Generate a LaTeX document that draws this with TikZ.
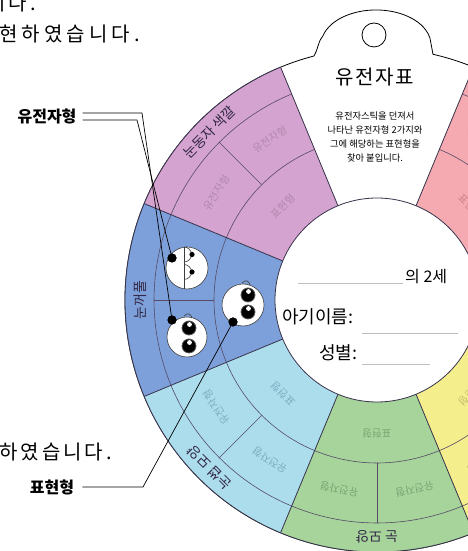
\documentclass[tikz,border=0pt]{standalone}
\usepackage{fontspec}
\setmainfont{Noto Sans CJK KR}
\usetikzlibrary{calc}

\definecolor{pinkS}{RGB}{213,163,207}
\definecolor{blueS}{RGB}{126,160,218}
\definecolor{cyanS}{RGB}{172,221,236}
\definecolor{greenS}{RGB}{166,212,155}
\definecolor{yellowS}{RGB}{245,238,140}
\definecolor{salmonS}{RGB}{244,170,176}
\definecolor{pinkT}{RGB}{176,135,175}
\definecolor{cyanT}{RGB}{125,172,192}
\definecolor{greenT}{RGB}{122,165,115}
\definecolor{yellowT}{RGB}{200,190,110}
\definecolor{salmonT}{RGB}{205,130,140}
\definecolor{edgeC}{RGB}{55,50,75}
\definecolor{ringC}{RGB}{85,75,105}
\definecolor{labelC}{RGB}{50,40,70}
\definecolor{faceC}{RGB}{60,60,60}
\definecolor{blankC}{RGB}{190,190,190}

\begin{document}
\begin{tikzpicture}[x=1pt,y=1pt,
  edge/.style={draw=edgeC, line width=0.8pt},
  ring/.style={draw=ringC, line width=0.6pt},
  cell/.style={inner sep=0pt, font=\fontsize{10.5}{12}\selectfont},
  band/.style={inner sep=0pt, text=labelC, font=\fontsize{14}{16}\selectfont},
  callout/.style={inner sep=0pt, font=\fontsize{16}{18}\selectfont\bfseries},
  bodytext/.style={inner sep=0pt, anchor=west, font=\fontsize{20}{24}\selectfont\addfontfeatures{LetterSpace=15}},
  blank/.style={draw=blankC, line width=0.9pt},
  conn/.style={draw=black, line width=0.7pt},
  pin/.style={circle, fill=black, inner sep=0pt, minimum size=9pt},
  face/.style={circle, draw=faceC, line width=0.6pt, fill=white, inner sep=0pt, minimum size=42pt},
  eyeball/.style={fill=black, draw=gray!70!black, line width=0.8pt},
]
\useasboundingbox (0,0) rectangle (468,551);
\clip (0,0) rectangle (468,551);
\fill[white] (0,0) rectangle (468,551);

% card outline with the hanging tab
\path[draw=black, line width=0.8pt, fill=white]
  (314,495) .. controls (318,501) and (318,510) .. (322.9,515.1)
  arc[start angle=165, end angle=11.5, x radius=55, y radius=35]
  -- (433,496.7) arc[start angle=77.16, end angle=-255.52, radius=252] -- cycle;
\draw[black, line width=0.8pt] (374,516) circle[radius=12];

% coloured wheel
\begin{scope}[shift={(377,251)}]
  \foreach \a/\col [evaluate=\a as \b using \a+45, evaluate=\a as \h using \a+22.5]
      in {112.5/pinkS, 157.5/blueS, 202.5/cyanS, 247.5/greenS, 292.5/yellowS, 22.5/salmonS} {
    \fill[\col] (\a:102) arc[start angle=\a, end angle=\b, radius=102]
       -- (\b:252) arc[start angle=\b, end angle=\a, radius=252] -- cycle;
    \draw[ring] (\a:163) arc[start angle=\a, end angle=\b, radius=163];
    \draw[ring] (\a:223) arc[start angle=\a, end angle=\b, radius=223];
    \draw[ring] (\h:163) -- (\h:223);
    \draw[edge] (\a:252) arc[start angle=\a, end angle=\b, radius=252];
  }
  \foreach \a in {22.5,67.5,112.5,157.5,202.5,247.5,292.5,337.5}
    \draw[edge] (\a:102) -- (\a:252);
  \draw[edge, fill=white] (0,0) circle[radius=102];

  % cell captions
  \foreach \m/\tc [evaluate=\m as \ra using \m-90,
                   evaluate=\m as \pa using \m+11.25, evaluate=\m as \pb using \m-11.25,
                   evaluate=\m as \rpa using \m-78.75, evaluate=\m as \rpb using \m-101.25]
      in {135/pinkT, 225/cyanT, 270/greenT, 315/yellowT, 45/salmonT} {
    \node[cell, text=\tc, rotate=\ra] at (\m:133) {표현형};
    \node[cell, text=\tc, rotate=\rpa] at (\pa:193) {유전자형};
    \node[cell, text=\tc, rotate=\rpb] at (\pb:193) {유전자형};
  }

  % trait names on the rim
  \node[band, rotate=45] at (135:237) {눈동자 색깔};
  \node[band, rotate=90] at (180:237) {눈꺼풀};
  \node[band, rotate=135] at (225:237) {눈썹 모양};
  \node[band, rotate=180] at (270:237) {눈 모양};
\end{scope}

% card texts
\node[inner sep=0pt, font=\fontsize{20}{22}\selectfont\addfontfeatures{LetterSpace=8}] (title) at (375,474) {유전자표};
\node[inner sep=0pt, align=center, font=\fontsize{9.3}{14}\selectfont] (howto) at (375,414)
  {유전자스틱을 던져서\\나타난 유전자형 2가지와\\그에 해당하는 표현형을\\찾아 붙입니다.};
\node[inner sep=0pt, anchor=west, font=\fontsize{16}{18}\selectfont] (child) at (405,274) {의 2세};
\draw[blank] (298,268) -- (403,268);
\node[inner sep=0pt, anchor=west, font=\fontsize{18}{20}\selectfont] (name) at (282,234) {아기이름:};
\draw[blank] (362,218) -- (458,218);
\node[inner sep=0pt, anchor=west, font=\fontsize{18}{20}\selectfont] (sex) at (319,198) {성별:};
\draw[blank] (362,187) -- (430,187);

% surrounding body text
\node[bodytext] (t1) at (-13,548) {니다.};
\node[bodytext, font=\fontsize{20}{24}\selectfont\addfontfeatures{LetterSpace=20}] (t2) at (-23,517) {표현하였습니다.};
\node[bodytext] (t3) at (-1,99) {하였습니다.};

% faces
\node[face] (f1) at (187,283) {};
\draw[faceC, line width=0.6pt] (184,304) -- (184,262);
\draw[faceC, line width=0.6pt] (184,304) arc[start angle=90, end angle=-90, radius=7.5];
\draw[faceC, line width=0.6pt] (184,286.5) arc[start angle=90, end angle=-90, radius=7.5];
\fill[black] (192,296.5) circle[radius=2.6];
\fill[black] (192,279) circle[radius=2.6];

\node[face, minimum size=40pt] (f2) at (187,214) {};
\filldraw[eyeball] ($(f2.center)+(2,9)$) circle[radius=7];
\filldraw[eyeball] ($(f2.center)+(2,-9)$) circle[radius=7];
\fill[white] ($(f2.center)+(2.5,12.5)$) circle[radius=2.4];
\fill[white] ($(f2.center)+(2.5,-5.5)$) circle[radius=2.4];
\draw[faceC, line width=0.6pt] (184,235) .. controls (188,239) and (191,237) .. (192,233);

\node[face] (f3) at (243,246) {};
\filldraw[eyeball] ($(f3.center)+(5,10)$) circle[radius=7];
\filldraw[eyeball] ($(f3.center)+(5,-7)$) circle[radius=7];
\fill[white] ($(f3.center)+(5.5,13.5)$) circle[radius=2.4];
\fill[white] ($(f3.center)+(5.5,-3.5)$) circle[radius=2.4];
\draw[faceC, line width=0.6pt] (242,268) .. controls (246,272) and (249,270) .. (250,266);

% callouts
\node[callout] (gt) at (47,435) {유전자형};
\node[callout] (pt) at (52,64) {표현형};
\node[pin] (d1) at (172,293) {};
\node[pin] (d2) at (172,231) {};
\node[pin] (d3) at (233,229) {};
\coordinate (g1) at (142,438);
\coordinate (g2) at (137,431);
\coordinate (p1) at (143,64);
\draw[conn] ($(gt.east)+(6,3)$) -- (g1) -- (d2.center);
\draw[conn] ($(gt.east)+(6,-4)$) -- (g2) -- (d1.center);
\draw[conn] ($(pt.east)+(8,0)$) -- (p1) -- (d3.center);
\node[pin] at (d1) {};
\node[pin] at (d2) {};
\node[pin] at (d3) {};
\end{tikzpicture}
\end{document}
